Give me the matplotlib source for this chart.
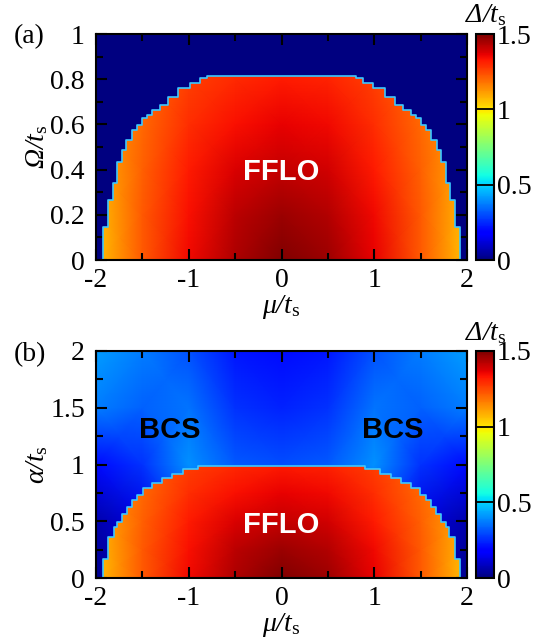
import numpy as np
import matplotlib
matplotlib.use('Agg')
import matplotlib.pyplot as plt
from matplotlib.patches import Polygon
from matplotlib.ticker import MultipleLocator, FormatStrFormatter

plt.rcParams['font.family'] = ['Liberation Serif', 'DejaVu Serif']
# italic greek capitals: rm slot uses the italic face, bf slot gives upright subscripts
plt.rcParams['mathtext.fontset'] = 'custom'
plt.rcParams['mathtext.rm'] = 'Liberation Serif:italic'
plt.rcParams['mathtext.it'] = 'Liberation Serif:italic'
plt.rcParams['mathtext.bf'] = 'Liberation Serif'
plt.rcParams['font.size'] = 20
plt.rcParams['axes.unicode_minus'] = False

# chemical potential grid (shared)
mu_grid = [-2, -1.5, -1, -0.5, 0, 0.5, 1, 1.5, 2]

# (a) gap in the FFLO phase vs Omega
omega_grid = [0, 0.2, 0.4, 0.6, 0.8, 1.0]
gap_a = [
    [1.05, 1.22, 1.35, 1.44, 1.50, 1.46, 1.36, 1.22, 1.05],
    [1.06, 1.22, 1.34, 1.42, 1.46, 1.43, 1.35, 1.22, 1.06],
    [1.08, 1.21, 1.32, 1.38, 1.41, 1.39, 1.32, 1.21, 1.08],
    [1.10, 1.20, 1.29, 1.34, 1.36, 1.35, 1.29, 1.20, 1.10],
    [1.12, 1.20, 1.26, 1.30, 1.32, 1.31, 1.26, 1.20, 1.12],
    [1.12, 1.20, 1.26, 1.30, 1.32, 1.31, 1.26, 1.20, 1.12],
]
# normal state outside: no gap
omega_out = [0, 1]
gap_a_out = [[0] * 9, [0] * 9]
# phase boundary, left half (step start mu, height)
edge_a_mu = [-1.921, -1.867, -1.813, -1.777, -1.72, -1.676, -1.615, -1.56, -1.507,
             -1.45, -1.40, -1.31, -1.22, -1.112, -0.986, -0.878, -0.806]
edge_a_h = [0.147, 0.266, 0.34, 0.435, 0.487, 0.53, 0.576, 0.598, 0.628,
            0.64, 0.664, 0.686, 0.723, 0.76, 0.782, 0.804, 0.815]

# (b) gap vs alpha
alpha_grid = [0, 0.25, 0.5, 0.75, 1.0, 2.0]
gap_b = [
    [1.05, 1.22, 1.35, 1.44, 1.50, 1.46, 1.36, 1.22, 1.05],
    [1.06, 1.22, 1.34, 1.42, 1.46, 1.43, 1.35, 1.22, 1.06],
    [1.08, 1.21, 1.32, 1.38, 1.41, 1.39, 1.32, 1.21, 1.08],
    [1.10, 1.20, 1.29, 1.34, 1.36, 1.35, 1.29, 1.20, 1.10],
    [1.12, 1.20, 1.26, 1.30, 1.32, 1.31, 1.26, 1.20, 1.12],
    [1.12, 1.20, 1.26, 1.30, 1.32, 1.31, 1.26, 1.20, 1.12],
]
alpha_bcs = [0, 0.5, 1.0, 1.5, 2.0]
gap_bcs = [
    [0.02, 0.10, 0.25, 0.30, 0.30, 0.30, 0.25, 0.10, 0.02],
    [0.06, 0.13, 0.30, 0.30, 0.30, 0.30, 0.30, 0.13, 0.06],
    [0.20, 0.26, 0.40, 0.32, 0.30, 0.32, 0.40, 0.26, 0.20],
    [0.37, 0.33, 0.36, 0.26, 0.24, 0.26, 0.36, 0.33, 0.37],
    [0.42, 0.37, 0.31, 0.22, 0.20, 0.22, 0.31, 0.37, 0.42],
]
edge_b_mu = [-1.921, -1.867, -1.81, -1.777, -1.72, -1.67, -1.615, -1.56, -1.49,
             -1.40, -1.29, -1.18, -1.06, -0.9]
edge_b_h = [0.171, 0.362, 0.45, 0.49, 0.568, 0.627, 0.686, 0.73, 0.789,
            0.833, 0.877, 0.92, 0.958, 0.985]


def outline(mu_left, h_left):
    pts = [(mu_left[0], 0)]
    for i in range(len(mu_left)):
        pts.append((mu_left[i], h_left[i]))
        if i + 1 < len(mu_left):
            pts.append((mu_left[i + 1], h_left[i]))
    right = [(-x, y) for (x, y) in reversed(pts)]
    return pts + right


def panel(ax, ygrid_in, gap_in, ygrid_out, gap_out, emu, eh):
    ax.pcolormesh(mu_grid, ygrid_out, gap_out, shading='gouraud', cmap='jet',
                  vmin=0, vmax=1.5)
    mesh = ax.pcolormesh(mu_grid, ygrid_in, gap_in, shading='gouraud', cmap='jet',
                         vmin=0, vmax=1.5)
    pts = outline(emu, eh)
    poly = Polygon(pts, closed=True, transform=ax.transData)
    mesh.set_clip_path(poly)
    xs = [p[0] for p in pts]
    ys = [p[1] for p in pts]
    ax.plot(xs, ys, color='#3cc8ff', lw=1.2)
    ax.set_xlim(-2, 2)
    ax.xaxis.set_major_locator(MultipleLocator(1))
    ax.xaxis.set_minor_locator(MultipleLocator(0.5))
    ax.yaxis.set_major_formatter(FormatStrFormatter('%g'))
    ax.xaxis.set_major_formatter(FormatStrFormatter('%g'))
    ax.tick_params(which='both', direction='in', top=True, right=True, width=1.5)
    ax.tick_params(which='major', length=8)
    ax.tick_params(which='minor', length=5)
    ax.tick_params(axis='x', pad=6)
    ax.tick_params(axis='y', pad=8)
    for s in ax.spines.values():
        s.set_linewidth(1.5)
    ax.set_xlabel(r'$\mu/t_\mathbf{s}$', labelpad=0)
    return mesh


def cbar(fig, mesh, rect):
    cax = fig.add_axes(rect)
    cb = fig.colorbar(mesh, cax=cax)
    cb.set_ticks([0, 0.5, 1, 1.5])
    cb.set_ticklabels(['0', '0.5', '1', '1.5'])
    cax.tick_params(length=0, pad=2)
    cb.outline.set_linewidth(1.5)
    cax.axhline(0.5, color='black', lw=1.3)
    cax.axhline(1.0, color='black', lw=1.3)
    return cax


fig = plt.figure(figsize=(5.44, 6.4), dpi=100)

ax1 = fig.add_axes([96 / 544, 1 - 260 / 640, 371 / 544, 226 / 640])
m1 = panel(ax1, omega_grid, gap_a, omega_out, gap_a_out, edge_a_mu, edge_a_h)
ax1.set_ylim(0, 1)
ax1.yaxis.set_major_locator(MultipleLocator(0.2))
ax1.yaxis.set_minor_locator(MultipleLocator(0.1))
ax1.set_ylabel(r'$\Omega/t_\mathbf{s}$', labelpad=0)
ax1.text(0, 0.39, 'FFLO', color='white', fontsize=21, fontweight='bold',
         family='Liberation Sans', ha='center', va='center')
cbar(fig, m1, [476 / 544, 1 - 260 / 640, 18 / 544, 226 / 640])
fig.text(486 / 544, 1 - 15 / 640, r'$\Delta/t_\mathbf{s}$', ha='center', va='center')
fig.text(14 / 544, 1 - 37 / 640, '(a)', ha='left', va='center')

ax2 = fig.add_axes([96 / 544, 1 - 578 / 640, 371 / 544, 227 / 640])
m2 = panel(ax2, alpha_grid, gap_b, alpha_bcs, gap_bcs, edge_b_mu, edge_b_h)
ax2.set_ylim(0, 2)
ax2.yaxis.set_major_locator(MultipleLocator(0.5))
ax2.yaxis.set_minor_locator(MultipleLocator(0.25))
ax2.set_ylabel(r'$\alpha/t_\mathbf{s}$', labelpad=0)
ax2.text(0, 0.47, 'FFLO', color='white', fontsize=21, fontweight='bold',
         family='Liberation Sans', ha='center', va='center')
for mx in (-1.2, 1.2):
    ax2.text(mx, 1.3, 'BCS', color='black', fontsize=21, fontweight='bold',
             family='Liberation Sans', ha='center', va='center')
cbar(fig, m2, [476 / 544, 1 - 578 / 640, 18 / 544, 227 / 640])
fig.text(486 / 544, 1 - 333 / 640, r'$\Delta/t_\mathbf{s}$', ha='center', va='center')
fig.text(14 / 544, 1 - 355 / 640, '(b)', ha='left', va='center')

fig.savefig('out.png', dpi=100)
